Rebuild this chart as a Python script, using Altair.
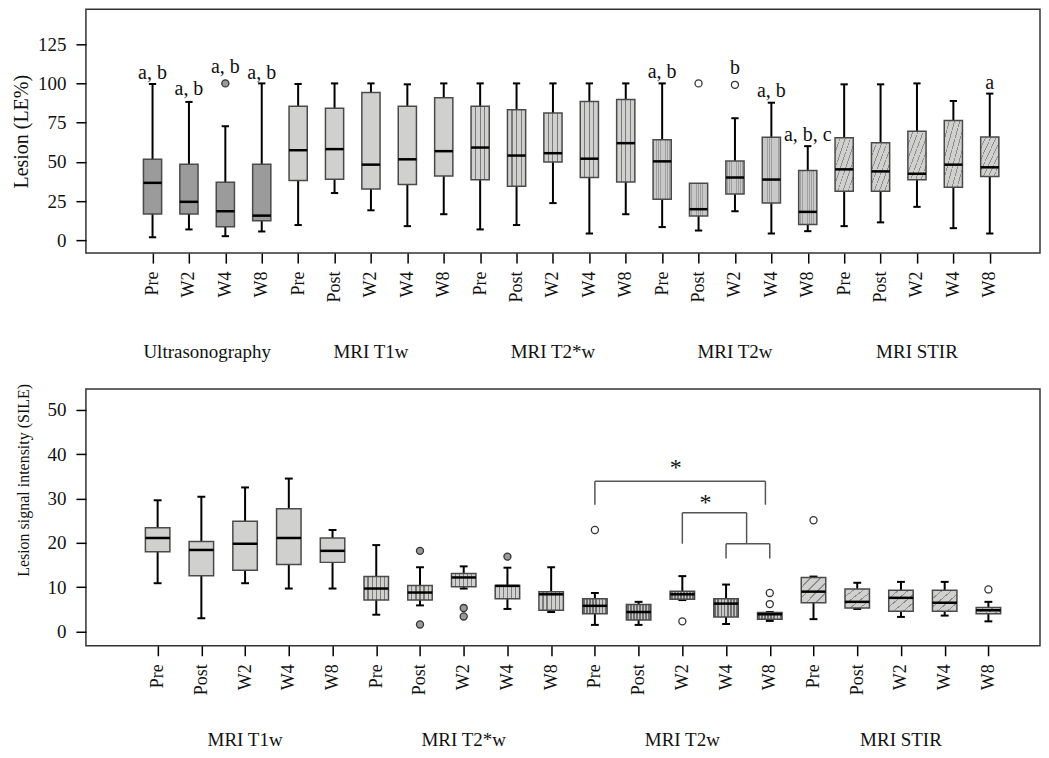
import altair as alt
import pandas as pd

FONT = "Liberation Serif"

# ---------------- Top panel: Lesion (LE%) ----------------
top_modality = (["Ultrasonography"] * 4 + ["MRI T1w"] * 5 + ["MRI T2*w"] * 5
                + ["MRI T2w"] * 5 + ["MRI STIR"] * 5)
top_time = ["Pre", "W2", "W4", "W8"] + ["Pre", "Post", "W2", "W4", "W8"] * 4
top_low = [1.9, 6.9, 2.6, 5.6, 9.7, 30.1, 19.1, 9.0, 16.6, 6.9, 9.7, 23.7, 4.3, 16.6,
           8.4, 6.2, 18.5, 4.3, 5.8, 9.0, 11.4, 21.3, 7.7, 4.3]
top_q1 = [16.8, 16.8, 8.6, 12.5, 38.1, 38.9, 32.7, 35.5, 40.9, 38.5, 34.4, 49.9, 40.0, 37.2,
          26.2, 15.5, 29.5, 23.7, 10.1, 31.2, 31.2, 38.5, 33.8, 40.6]
top_med = [36.6, 24.5, 18.5, 15.7, 57.4, 58.1, 48.2, 51.6, 56.8, 59.1, 54.0, 55.5, 52.0, 61.9,
           50.3, 19.8, 40.0, 38.7, 18.1, 45.2, 43.9, 42.4, 48.2, 46.5]
top_q3 = [51.6, 48.4, 37.0, 48.4, 85.4, 84.1, 94.2, 85.4, 90.8, 85.4, 83.2, 81.1, 88.4, 89.7,
          64.1, 36.3, 50.5, 65.6, 44.5, 65.4, 62.2, 69.5, 76.3, 65.8]
top_high = [99.6, 88.2, 72.7, 100, 99.6, 100, 100, 99.4, 100, 100, 100, 100, 100, 100,
            100, 36.3, 77.8, 87.7, 60.0, 99.4, 99.4, 100, 88.8, 93.5]
top_out_idx = [2, 15, 16]
top_out_val = [100, 100, 99.1]
top_ann_idx = [0, 1, 2, 3, 14, 16, 17, 18, 23]
top_ann_text = ["a, b", "a, b", "a, b", "a, b", "a, b", "b", "a, b", "a, b, c", "a"]
top_ann_val = [103, 92.9, 106.9, 103, 103.7, 106, 91.4, 63.4, 96.6]
top_yticks = [0, 25, 50, 75, 100, 125]

# ---------------- Bottom panel: SILE ----------------
bot_modality = ["MRI T1w"] * 5 + ["MRI T2*w"] * 5 + ["MRI T2w"] * 5 + ["MRI STIR"] * 5
bot_time = ["Pre", "Post", "W2", "W4", "W8"] * 4
bot_low = [10.9, 3.0, 10.9, 9.7, 9.7, 3.8, 5.9, 9.7, 5.1, 4.4,
           1.5, 1.5, 7.1, 1.7, 2.4, 2.8, 5.1, 3.3, 3.6, 2.3]
bot_q1 = [18.0, 12.6, 13.8, 15.1, 15.6, 7.1, 7.1, 10.1, 7.4, 4.8,
          4.0, 2.6, 7.3, 3.3, 2.8, 6.5, 5.3, 4.6, 4.6, 4.0]
bot_med = [21.1, 18.4, 19.8, 21.1, 18.2, 9.7, 8.8, 12.2, 10.3, 8.4,
           5.8, 4.4, 8.4, 6.3, 3.9, 9.0, 6.7, 7.6, 6.5, 4.8]
bot_q3 = [23.4, 20.3, 24.9, 27.7, 21.1, 12.4, 10.4, 13.1, 10.4, 9.0,
          7.4, 6.1, 9.1, 7.4, 4.3, 12.2, 9.6, 9.3, 9.3, 5.4]
bot_high = [29.6, 30.4, 32.5, 34.5, 22.9, 19.5, 14.5, 14.7, 14.4, 14.5,
            8.7, 6.7, 12.5, 10.6, 4.4, 12.4, 11.0, 11.2, 11.2, 6.7]
bot_out_idx = [6, 6, 7, 7, 8, 10, 12, 14, 14, 15, 19]
bot_out_val = [18.2, 1.6, 5.3, 3.4, 16.9, 22.9, 2.3, 8.7, 6.2, 25.1, 9.5]
bot_yticks = [0, 10, 20, 30, 40, 50]
# significance brackets (segments, in x-index / value units)
br_x1 = [10, 10, 13.9, 12, 12, 13.47, 13, 13, 14]
br_x2 = [13.9, 10, 13.9, 13.47, 12, 13.47, 14, 13, 14]
br_y1 = [33.9, 33.9, 33.9, 26.8, 26.8, 26.8, 19.8, 19.8, 19.8]
br_y2 = [33.9, 28.6, 28.6, 26.8, 19.8, 19.8, 19.8, 16.5, 16.5]
star_x = [11.85, 12.53]
star_y = [36.9, 28.9]
star_text = ["*", "*"]


def stripes(bg, fg, n, w, diagonal=False):
    stops = [alt.GradientStop(color=bg, offset=0)]
    for k in range(1, n + 1):
        p = k / (n + 1)
        stops += [alt.GradientStop(color=bg, offset=p - w / 2),
                  alt.GradientStop(color=fg, offset=p - w / 2),
                  alt.GradientStop(color=fg, offset=p + w / 2),
                  alt.GradientStop(color=bg, offset=p + w / 2)]
    stops.append(alt.GradientStop(color=bg, offset=1))
    if diagonal:
        return alt.LinearGradient(gradient="linear", stops=stops, x1=0, y1=0, x2=1, y2=1)
    return alt.LinearGradient(gradient="linear", stops=stops, x1=0, y1=0, x2=1, y2=0)


LIGHT = "#d0d1cf"
TXT = "#111111"


def box_panel(modality, times, low, q1, med, q3, high, out_idx, out_val,
              ydom, yticks, ytitle, W, H, hw, cap, xdom, title_pad, title_size,
              title_y, group_y, fills, out_fill, extra=None):
    n = len(times)
    df = pd.DataFrame({"idx": list(range(n)), "modality": modality, "low": low,
                       "q1": q1, "med": med, "q3": q3, "high": high})
    label_expr = "[" + ",".join("'%s'" % t for t in times) + "][datum.value]"
    x_axis = alt.Axis(values=list(range(n)), labelExpr=label_expr, labelAngle=270,
                      tickSize=10, tickWidth=1.5, tickColor="black", labelFont=FONT,
                      labelFontSize=18, labelPadding=8, labelColor=TXT,
                      labelOverlap=False, labelFlush=False, domain=False, grid=False,
                      title=None)
    yargs = dict(values=yticks, tickSize=10, tickWidth=1.5, tickColor="black",
                 labelFont=FONT, labelFontSize=19, labelPadding=10,
                 labelColor=TXT, domain=False, grid=False, title=ytitle,
                 titleFont=FONT, titleFontSize=title_size, titleFontWeight="normal",
                 titlePadding=title_pad, titleColor=TXT)
    if title_y is not None:
        yargs["titleY"] = title_y
    y_axis = alt.Axis(**yargs)
    xscale = alt.Scale(domain=xdom, nice=False, zero=False)
    yscale = alt.Scale(domain=ydom, nice=False, zero=False)

    def X(f):
        return alt.X(f + ":Q", scale=xscale, axis=x_axis)

    def Y(f):
        return alt.Y(f + ":Q", scale=yscale, axis=y_axis)

    base = alt.Chart(df)
    layers = []
    layers.append(base.mark_rule(color="black", strokeWidth=2).encode(
        x=X("idx"), y=Y("low"), y2="q1"))
    layers.append(base.mark_rule(color="black", strokeWidth=2).encode(
        x=X("idx"), y=Y("q3"), y2="high"))
    capbase = base.transform_calculate(cl="datum.idx - %f" % cap, cr="datum.idx + %f" % cap)
    layers.append(capbase.transform_filter("datum.low < datum.q1").mark_rule(
        color="black", strokeWidth=2).encode(x=X("cl"), x2="cr", y=Y("low")))
    layers.append(capbase.transform_filter("datum.high > datum.q3").mark_rule(
        color="black", strokeWidth=2).encode(x=X("cl"), x2="cr", y=Y("high")))
    boxbase = base.transform_calculate(bl="datum.idx - %f" % hw, br="datum.idx + %f" % hw)
    for m, fill in fills.items():
        layers.append(boxbase.transform_filter(alt.datum.modality == m).mark_rect(
            fill=fill, stroke="#4a4a4a", strokeWidth=1.5).encode(
            x=X("bl"), x2="br", y=Y("q1"), y2="q3"))
    layers.append(boxbase.mark_rule(color="black", strokeWidth=2.5).encode(
        x=X("bl"), x2="br", y=Y("med")))
    odf = pd.DataFrame({"idx": out_idx, "val": out_val,
                        "modality": [modality[i] for i in out_idx]})
    layers.append(alt.Chart(odf).mark_point(shape="circle", filled=True, size=50,
                                            stroke="#333333", strokeWidth=1.3,
                                            opacity=1).encode(
        x=X("idx"), y=Y("val"),
        fill=alt.Fill("modality:N", legend=None,
                      scale=alt.Scale(domain=list(out_fill.keys()),
                                      range=list(out_fill.values())))))
    # group labels under the axis
    groups = []
    for m in modality:
        if m not in groups:
            groups.append(m)
    centers = [sum(i for i in range(n) if modality[i] == g) / modality.count(g) for g in groups]
    gdf = pd.DataFrame({"name": groups, "center": centers})
    layers.append(alt.Chart(gdf).mark_text(font=FONT, fontSize=19, baseline="middle",
                                           color=TXT).encode(
        x=X("center"), y=alt.value(group_y), text="name:N"))
    if extra:
        layers += extra(X, Y)
    return alt.layer(*layers).properties(width=W, height=H)


def top_extra(X, Y):
    adf = pd.DataFrame({"idx": top_ann_idx, "val": top_ann_val, "text": top_ann_text})
    return [alt.Chart(adf).mark_text(font=FONT, fontSize=20, baseline="alphabetic",
                                     color=TXT).encode(
        x=X("idx"), y=Y("val"), text="text:N")]


def bot_extra(X, Y):
    bdf = pd.DataFrame({"x1": br_x1, "x2": br_x2, "y1": br_y1, "y2": br_y2})
    sdf = pd.DataFrame({"x": star_x, "y": star_y, "t": star_text})
    return [alt.Chart(bdf).mark_rule(color="#555555", strokeWidth=1.5).encode(
                x=X("x1"), x2="x2", y=Y("y1"), y2="y2"),
            alt.Chart(sdf).mark_text(font=FONT, fontSize=24, baseline="middle",
                                     color=TXT).encode(
                x=X("x"), y=Y("y"), text="t:N")]


top_fills = {
    "Ultrasonography": "#9b9b9b",
    "MRI T1w": LIGHT,
    "MRI T2*w": stripes(LIGHT, "#7a7a7a", 3, 0.06),
    "MRI T2w": stripes("#c8c8c8", "#a0a0a0", 9, 0.035),
    "MRI STIR": stripes(LIGHT, "#8c8c8c", 6, 0.025, diagonal=True),
}
bot_fills = {
    "MRI T1w": LIGHT,
    "MRI T2*w": stripes(LIGHT, "#7a7a7a", 5, 0.05),
    "MRI T2w": stripes("#707070", "#c8c8c8", 7, 0.05),
    "MRI STIR": stripes(LIGHT, "#8c8c8c", 4, 0.03, diagonal=True),
}

top = box_panel(top_modality, top_time, top_low, top_q1, top_med, top_q3, top_high,
                top_out_idx, top_out_val, [-8.2, 147.2], top_yticks, "Lesion (LE%)",
                955, 244, 0.25, 0.1, [-1.83, 24.38], 6, 20, None, 343, top_fills,
                {"Ultrasonography": "#999999", "MRI T2w": "#ffffff"}, top_extra)

bottom = box_panel(bot_modality, bot_time, bot_low, bot_q1, bot_med, bot_q3, bot_high,
                   bot_out_idx, bot_out_val, [-3.2, 54.7], bot_yticks,
                   "Lesion signal intensity (SILE)", 955, 257, 0.28, 0.09,
                   [-1.64, 20.18], 15, 16, 91, 351, bot_fills,
                   {"MRI T2*w": "#999999", "MRI T2w": "#ffffff", "MRI STIR": "#ffffff"},
                   bot_extra)

chart = alt.vconcat(top, bottom, spacing=19).properties(
    padding={"left": 2, "top": 0, "right": 0, "bottom": 0}
).configure_view(stroke="#333333", strokeWidth=1.5)

chart.save("out.html", embed_options={"renderer": "svg", "actions": False})
